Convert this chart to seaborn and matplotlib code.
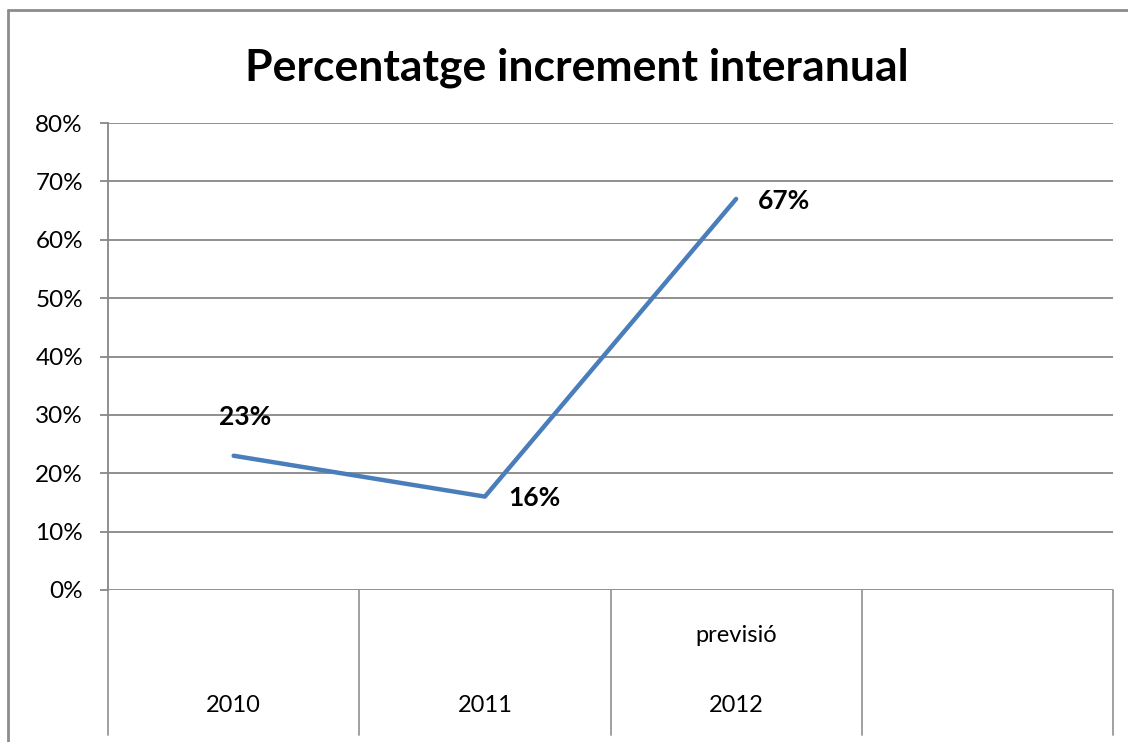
import numpy as np
import pandas as pd
import seaborn as sns
from matplotlib import pyplot as plt
from matplotlib.lines import Line2D

# Data
years = ["2010", "2011", "2012"]
increment = [0.23, 0.16, 0.67]
notes = ["", "", "previsió"]
extra_slots = 1  # empty category slot on the right
yticks = [0.0, 0.1, 0.2, 0.3, 0.4, 0.5, 0.6, 0.7, 0.8]

df = pd.DataFrame({"year": years, "increment": increment})

sns.set_theme(style="white")
plt.rcParams['font.family'] = ['Lato', 'DejaVu Sans']
plt.rcParams['text.color'] = 'black'
plt.rcParams['ytick.color'] = 'black'

grid_col = "#878787"
line_col = "#4a7ebb"

fig = plt.figure(figsize=(11.28, 7.42), dpi=100)
ax = fig.add_axes([108 / 1128, 1 - 590 / 742, (1113 - 108) / 1128, (590 - 123) / 742])

sns.lineplot(data=df, x="year", y="increment", ax=ax, color=line_col, linewidth=3.2, sort=False)

n_slots = len(years) + extra_slots
ax.set_xlim(-0.5, n_slots - 0.5)
ax.set_ylim(0, 0.8)
ax.set_yticks(yticks)
ax.set_yticklabels([f"{int(round(v * 100))}%" for v in yticks], fontsize=17.5, color="black")
ax.set_xticks([])
ax.set_xlabel("")
ax.set_ylabel("")
ax.tick_params(axis="y", direction="out", length=6, width=1.3, color=grid_col, pad=12, left=True)

for v in yticks:
    ax.axhline(v, color=grid_col, linewidth=1.3, zorder=0)

for s in ["top", "right", "bottom"]:
    ax.spines[s].set_visible(False)
ax.spines["left"].set_color(grid_col)
ax.spines["left"].set_linewidth(1.3)

# category table below the axis
bottom_frac = -(735 - 590) / 467
for b in np.arange(n_slots + 1) - 0.5:
    ax.plot([b, b], [0, bottom_frac], transform=ax.get_xaxis_transform(),
            color="#999999", linewidth=1.3, clip_on=False)
for i, (yr, nt) in enumerate(zip(years, notes)):
    ax.text(i, -(705 - 590) / 467, yr, transform=ax.get_xaxis_transform(),
            ha="center", va="center", fontsize=17)
    if nt:
        ax.text(i, -(636 - 590) / 467, nt, transform=ax.get_xaxis_transform(),
                ha="center", va="center", fontsize=17)

# data labels
offsets = [(12, 39), (50, -1), (48, -2)]
for i, (v, off) in enumerate(zip(increment, offsets)):
    ax.annotate(f"{int(round(v * 100))}%", (i, v), xytext=off, textcoords="offset pixels",
                ha="center", va="center", fontsize=19, fontweight="bold")

fig.text(577 / 1128, 1 - 68 / 742, "Percentatge increment interanual",
         ha="center", va="center", fontsize=32, fontweight="bold")

# outer chart frame (clipped on right and bottom)
fig.add_artist(Line2D([8 / 1128, 8 / 1128], [0, 1 - 10 / 742], color="#8c8c8c", linewidth=2))
fig.add_artist(Line2D([8 / 1128, 1], [1 - 10 / 742, 1 - 10 / 742], color="#8c8c8c", linewidth=2))

plt.savefig("out.png", dpi=100)
